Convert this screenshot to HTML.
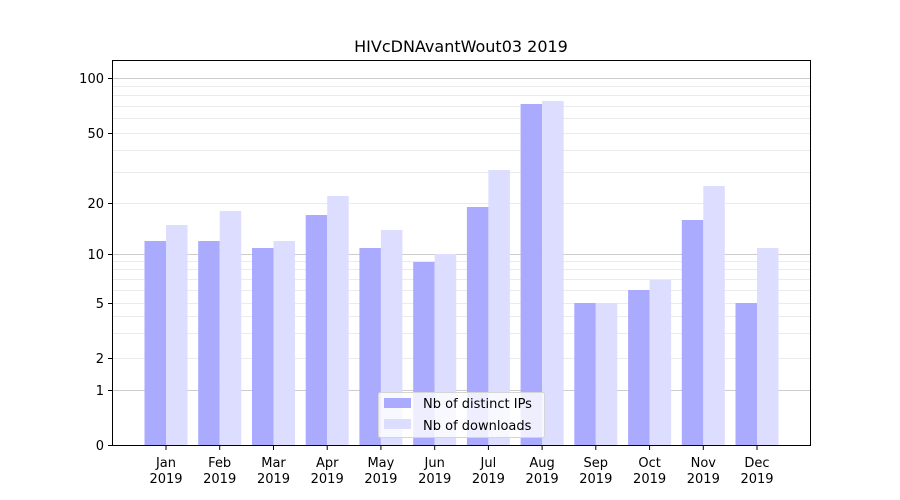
<!DOCTYPE html>
<html><head><meta charset="utf-8"><style>body{margin:0;background:#fff}svg{display:block}text{font-family:"DejaVu Sans","Liberation Sans",sans-serif;font-size:13px;fill:#000}</style></head><body>
<svg width="900" height="500" viewBox="0 0 900 500" xmlns="http://www.w3.org/2000/svg">
<rect width="900" height="500" fill="#fff"/>
<g stroke="#ebebeb" stroke-width="1">
<line x1="113" x2="810" y1="358.5" y2="358.5"/><line x1="113" x2="810" y1="333.5" y2="333.5"/><line x1="113" x2="810" y1="316.5" y2="316.5"/><line x1="113" x2="810" y1="303.5" y2="303.5"/><line x1="113" x2="810" y1="290.5" y2="290.5"/><line x1="113" x2="810" y1="279.5" y2="279.5"/><line x1="113" x2="810" y1="269.5" y2="269.5"/><line x1="113" x2="810" y1="261.5" y2="261.5"/>
<line x1="113" x2="810" y1="203.5" y2="203.5"/><line x1="113" x2="810" y1="172.5" y2="172.5"/><line x1="113" x2="810" y1="150.5" y2="150.5"/><line x1="113" x2="810" y1="133.5" y2="133.5"/><line x1="113" x2="810" y1="118.5" y2="118.5"/><line x1="113" x2="810" y1="106.5" y2="106.5"/><line x1="113" x2="810" y1="95.5" y2="95.5"/><line x1="113" x2="810" y1="86.5" y2="86.5"/>
</g>
<g stroke="#cccccc" stroke-width="1"><line x1="113" x2="810" y1="390.5" y2="390.5"/><line x1="113" x2="810" y1="254.5" y2="254.5"/><line x1="113" x2="810" y1="78.5" y2="78.5"/></g>
<g fill="#aaaaff">
<rect x="144.5" y="241" width="21.5" height="204"/>
<rect x="198.2" y="241" width="21.5" height="204"/>
<rect x="252" y="248" width="21.5" height="197"/>
<rect x="305.7" y="215" width="21.5" height="230"/>
<rect x="359.4" y="248" width="21.5" height="197"/>
<rect x="413.2" y="262" width="21.5" height="183"/>
<rect x="466.9" y="207" width="21.5" height="238"/>
<rect x="520.6" y="104" width="21.5" height="341"/>
<rect x="574.3" y="303" width="21.5" height="142"/>
<rect x="628.1" y="290" width="21.5" height="155"/>
<rect x="681.8" y="220" width="21.5" height="225"/>
<rect x="735.5" y="303" width="21.5" height="142"/>
</g>
<g fill="#ddddff">
<rect x="166" y="225" width="21.5" height="220"/>
<rect x="219.7" y="211" width="21.5" height="234"/>
<rect x="273.5" y="241" width="21.5" height="204"/>
<rect x="327.2" y="196" width="21.5" height="249"/>
<rect x="380.9" y="230" width="21.5" height="215"/>
<rect x="434.7" y="254" width="21.5" height="191"/>
<rect x="488.4" y="170" width="21.5" height="275"/>
<rect x="542.1" y="101" width="21.5" height="344"/>
<rect x="595.8" y="303" width="21.5" height="142"/>
<rect x="649.6" y="280" width="21.5" height="165"/>
<rect x="703.3" y="186" width="21.5" height="259"/>
<rect x="757" y="248" width="21.5" height="197"/>
</g>
<rect x="378.5" y="392.5" width="166" height="45" rx="2" fill="#fff" fill-opacity="0.8" stroke="#d5d5d5"/>
<rect x="384" y="398" width="27" height="10" fill="#aaaaff"/>
<rect x="384" y="419" width="27" height="10" fill="#ddddff"/>
<text x="423" y="408">Nb of distinct IPs</text>
<text x="423" y="430">Nb of downloads</text>
<rect x="112.5" y="60.5" width="698" height="385" fill="none" stroke="#000"/>
<g stroke="#000"><line x1="108" x2="112" y1="445.5" y2="445.5"/><line x1="108" x2="112" y1="390.5" y2="390.5"/><line x1="108" x2="112" y1="358.5" y2="358.5"/><line x1="108" x2="112" y1="303.5" y2="303.5"/><line x1="108" x2="112" y1="254.5" y2="254.5"/><line x1="108" x2="112" y1="203.5" y2="203.5"/><line x1="108" x2="112" y1="133.5" y2="133.5"/><line x1="108" x2="112" y1="78.5" y2="78.5"/>
<line x1="166" x2="166" y1="446" y2="450"/><line x1="219.7" x2="219.7" y1="446" y2="450"/><line x1="273.5" x2="273.5" y1="446" y2="450"/><line x1="327.2" x2="327.2" y1="446" y2="450"/><line x1="380.9" x2="380.9" y1="446" y2="450"/><line x1="434.7" x2="434.7" y1="446" y2="450"/><line x1="488.4" x2="488.4" y1="446" y2="450"/><line x1="542.1" x2="542.1" y1="446" y2="450"/><line x1="595.8" x2="595.8" y1="446" y2="450"/><line x1="649.6" x2="649.6" y1="446" y2="450"/><line x1="703.3" x2="703.3" y1="446" y2="450"/><line x1="757" x2="757" y1="446" y2="450"/></g>
<g text-anchor="end"><text x="104" y="450">0</text><text x="104" y="395">1</text><text x="104" y="363">2</text><text x="104" y="308">5</text><text x="104" y="259">10</text><text x="104" y="208">20</text><text x="104" y="138">50</text><text x="104" y="83">100</text></g>
<g text-anchor="middle">
<text x="166" y="467">Jan</text><text x="166" y="483">2019</text>
<text x="219.7" y="467">Feb</text><text x="219.7" y="483">2019</text>
<text x="273.5" y="467">Mar</text><text x="273.5" y="483">2019</text>
<text x="327.2" y="467">Apr</text><text x="327.2" y="483">2019</text>
<text x="380.9" y="467">May</text><text x="380.9" y="483">2019</text>
<text x="434.7" y="467">Jun</text><text x="434.7" y="483">2019</text>
<text x="488.4" y="467">Jul</text><text x="488.4" y="483">2019</text>
<text x="542.1" y="467">Aug</text><text x="542.1" y="483">2019</text>
<text x="595.8" y="467">Sep</text><text x="595.8" y="483">2019</text>
<text x="649.6" y="467">Oct</text><text x="649.6" y="483">2019</text>
<text x="703.3" y="467">Nov</text><text x="703.3" y="483">2019</text>
<text x="757" y="467">Dec</text><text x="757" y="483">2019</text>
</g>
<text x="461" y="52" text-anchor="middle" style="font-size:16px">HIVcDNAvantWout03 2019</text>
</svg>
</body></html>
